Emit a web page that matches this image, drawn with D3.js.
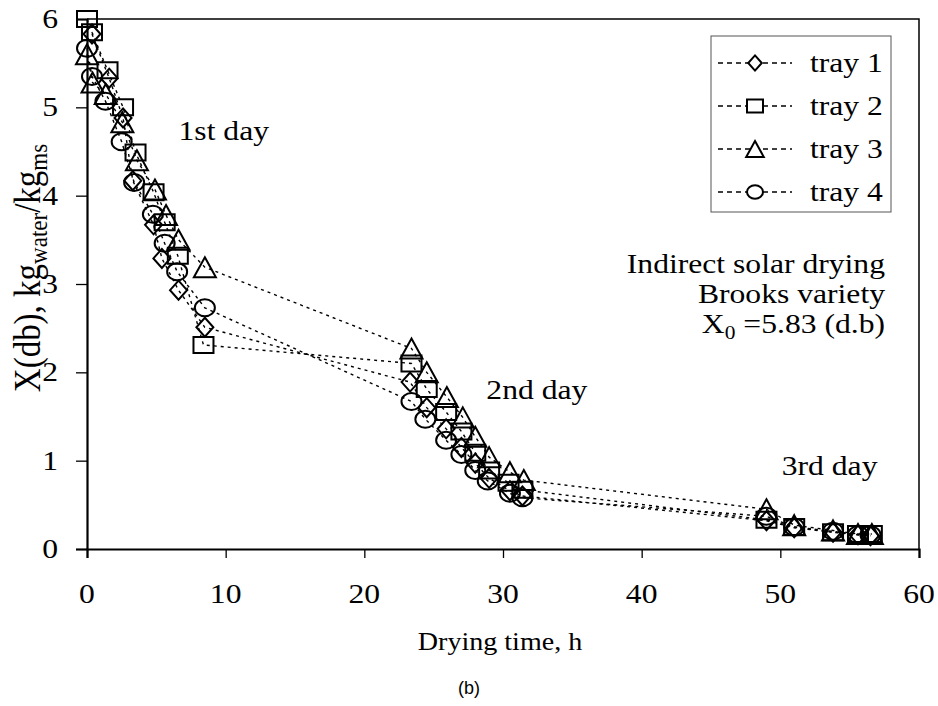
<!DOCTYPE html>
<html><head><meta charset="utf-8">
<script src="https://cdn.jsdelivr.net/npm/d3@7"></script>
<style>body{margin:0;background:#fff}</style>
</head><body>
<svg id="chart" width="938" height="706"></svg>
<script>
// ---- data ----
const seriesNames = ["tray 1", "tray 2", "tray 3", "tray 4"];
const markerTypes = ["diamond", "square", "triangle", "circle"];

const tray1Time = [0.36, 1.6, 2.6, 3.3, 4.8, 5.4, 6.6, 8.5, 23.3, 24.5, 25.9, 27.0, 28.0, 29.0, 30.5, 31.4, 49.0, 51.0, 53.8, 55.6, 56.5];
const tray1X    = [5.83, 5.33, 4.88, 4.17, 3.67, 3.29, 2.93, 2.51, 1.89, 1.60, 1.36, 1.15, 0.97, 0.80, 0.66, 0.60, 0.32, 0.24, 0.19, 0.16, 0.15];

const tray2Time = [0, 0.36, 1.48, 2.6, 3.5, 4.8, 5.6, 6.55, 8.4, 23.4, 24.5, 25.9, 27.0, 28.0, 29.0, 30.4, 31.4, 49.0, 51.0, 53.8, 55.6, 56.6];
const tray2X    = [6.0, 5.85, 5.42, 5.0, 4.49, 4.04, 3.70, 3.32, 2.31, 2.10, 1.81, 1.55, 1.33, 1.09, 0.89, 0.75, 0.67, 0.33, 0.25, 0.19, 0.17, 0.17];

const tray3Time = [0, 0.4, 1.35, 2.55, 3.6, 4.9, 5.7, 6.6, 8.5, 23.4, 24.5, 25.95, 27.1, 28.0, 29.0, 30.5, 31.5, 49.0, 51.0, 53.8, 55.6, 56.6];
const tray3X    = [5.6, 5.28, 5.15, 4.83, 4.40, 4.07, 3.78, 3.50, 3.19, 2.27, 2.0, 1.72, 1.49, 1.27, 1.04, 0.87, 0.78, 0.45, 0.27, 0.21, 0.17, 0.17];

const tray4Time = [0, 0.36, 1.33, 2.5, 3.4, 4.75, 5.6, 6.5, 8.5, 23.4, 24.4, 25.9, 27.0, 28.0, 28.9, 30.5, 31.4, 49.0, 51.0, 53.8, 55.6, 56.5];
const tray4X    = [5.67, 5.35, 5.07, 4.61, 4.15, 3.79, 3.46, 3.14, 2.73, 1.67, 1.47, 1.23, 1.07, 0.89, 0.77, 0.63, 0.58, 0.37, 0.25, 0.20, 0.16, 0.16];

const xTicks = [0, 10, 20, 30, 40, 50, 60];
const yTicks = [0, 1, 2, 3, 4, 5, 6];

const dayLabels = ["1st day", "2nd day", "3rd day"];
const dayLabelPos = [[6.6, 4.63], [28.8, 1.70], [50.1, 0.84]]; // data coords (time, X) of text start / baseline
const noteLines = ["Indirect solar drying", "Brooks variety"];

// ---- setup ----
const series = [
  {name: seriesNames[0], type: markerTypes[0], t: tray1Time, v: tray1X},
  {name: seriesNames[1], type: markerTypes[1], t: tray2Time, v: tray2X},
  {name: seriesNames[2], type: markerTypes[2], t: tray3Time, v: tray3X},
  {name: seriesNames[3], type: markerTypes[3], t: tray4Time, v: tray4X}
];

const svg = d3.select("#chart");
const L = 87, R = 919, T = 19, B = 549;
const x = d3.scaleLinear().domain([0, 60]).range([L, R]);
const y = d3.scaleLinear().domain([0, 6]).range([B, T]);
const serif = "'Liberation Serif', 'Times New Roman', serif";
const FS = 28, SX = 1.13;

function markerPath(type, s) {
  s = s || 1;
  if (type === "diamond") { const w = 17*s/2, h = 19*s/2; return `M0,${-h}L${w},0L0,${h}L${-w},0Z`; }
  if (type === "square")  { const w = 20*s/2, h = 16*s/2; return `M${-w},${-h}H${w}V${h}H${-w}Z`; }
  if (type === "triangle"){ const w = 22*s/2, h = 20*s/2; return `M0,${-h}L${w},${h}L${-w},${h}Z`; }
  const rx = 10*s, ry = 8.5*s;
  return `M${-rx},0A${rx},${ry} 0 1,0 ${rx},0A${rx},${ry} 0 1,0 ${-rx},0Z`;
}

function txt(g, px, py, str, opts) {
  opts = opts || {};
  return g.append("text")
    .attr("transform", `translate(${px},${py}) scale(${opts.sx || SX},1)`)
    .attr("font-family", serif)
    .attr("font-size", opts.size || FS)
    .attr("text-anchor", opts.anchor || "start")
    .attr("fill", "#000")
    .text(str);
}

// frame (top & right)
svg.append("path").attr("d", `M${L},${T}H${R}V${B}`).attr("fill", "none").attr("stroke", "#000").attr("stroke-width", 1.5);

// axes
const xAxis = svg.append("g").attr("transform", `translate(0,${B})`)
  .call(d3.axisBottom(x).tickValues(xTicks).tickSize(9).tickFormat(""));
const yAxis = svg.append("g").attr("transform", `translate(${L},0)`)
  .call(d3.axisLeft(y).tickValues(yTicks).tickSize(11).tickFormat(""));
[xAxis, yAxis].forEach(a => {
  a.select(".domain").attr("stroke", "#000").attr("stroke-width", 2.2);
  a.selectAll(".tick line").attr("stroke", "#000").attr("stroke-width", 1.3);
});
xTicks.forEach(v => txt(svg, x(v), 603, String(v), {anchor: "middle"}));
yTicks.forEach(v => txt(svg, 58, y(v) + 9, String(v), {anchor: "end"}));

// axis titles
txt(svg, 500, 650, "Drying time, h", {anchor: "middle", size: 26, sx: 1.08});
const yl = svg.append("text")
  .attr("transform", `translate(40,268) rotate(-90) scale(1,${SX})`)
  .attr("font-family", serif).attr("font-size", 33).attr("text-anchor", "middle").attr("fill", "#000");
yl.append("tspan").text("X(db), kg");
yl.append("tspan").attr("font-size", 23).attr("dy", 6).text("water");
yl.append("tspan").attr("dy", -6).text("/kg");
yl.append("tspan").attr("font-size", 23).attr("dy", 6).text("ms");

svg.append("text").attr("x", 469).attr("y", 694).attr("text-anchor", "middle")
  .attr("font-family", "'Liberation Sans', Arial, sans-serif").attr("font-size", 18).text("(b)");

// series lines
const line = d3.line().x(d => x(d[0])).y(d => y(d[1]));
series.forEach(s => {
  const pts = s.t.map((t, i) => [t, s.v[i]]);
  svg.append("path").attr("d", line(pts)).attr("fill", "none")
    .attr("stroke", "#000").attr("stroke-width", 1.4).attr("stroke-dasharray", "3,4");
});
// markers
series.forEach(s => {
  const pts = s.t.map((t, i) => [t, s.v[i]]);
  svg.append("g").selectAll("path").data(pts).join("path")
    .attr("transform", d => `translate(${x(d[0])},${y(d[1])})`)
    .attr("d", markerPath(s.type)).attr("fill", "none")
    .attr("stroke", "#000").attr("stroke-width", 2);
});

// annotations
dayLabels.forEach((lab, i) => txt(svg, x(dayLabelPos[i][0]), y(dayLabelPos[i][1]), lab));
txt(svg, 885, 273, noteLines[0], {anchor: "end"});
txt(svg, 885, 303, noteLines[1], {anchor: "end"});
const x0 = svg.append("text").attr("transform", `translate(885,333) scale(${SX},1)`)
  .attr("font-family", serif).attr("font-size", FS).attr("text-anchor", "end");
x0.append("tspan").text("X");
x0.append("tspan").attr("font-size", 19).attr("dy", 6).text("0");
x0.append("tspan").attr("dy", -6).text(" =5.83 (d.b)");

// legend
const lg = svg.append("g");
lg.append("rect").attr("x", 711).attr("y", 36).attr("width", 180).attr("height", 176)
  .attr("fill", "#fff").attr("stroke", "#555").attr("stroke-width", 1);
series.forEach((s, i) => {
  const cy = 63 + i * 43;
  lg.append("line").attr("x1", 718).attr("x2", 792).attr("y1", cy).attr("y2", cy)
    .attr("stroke", "#000").attr("stroke-width", 1.4).attr("stroke-dasharray", "5,4");
  lg.append("path").attr("transform", `translate(755,${cy})`).attr("d", markerPath(s.type, 0.8))
    .attr("fill", "#fff").attr("stroke", "#000").attr("stroke-width", 2);
  txt(lg, 810, cy + 9, s.name);
});
</script>
</body></html>
